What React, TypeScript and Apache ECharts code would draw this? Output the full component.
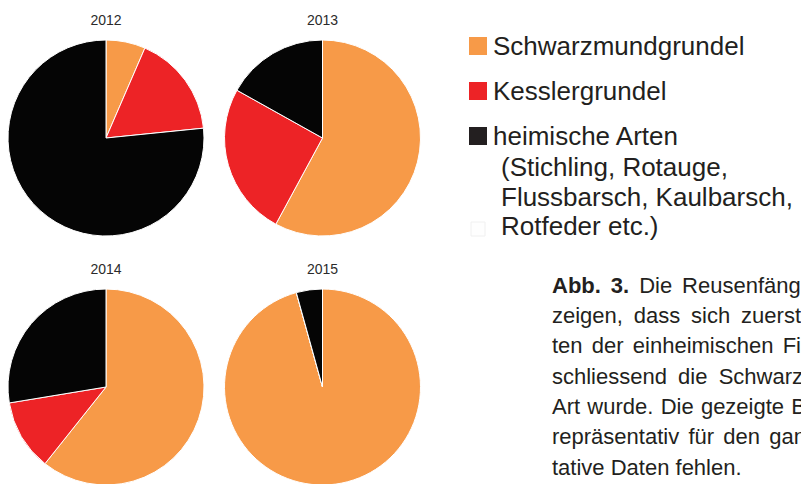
import React, { useEffect, useRef } from "react";
import * as echarts from "echarts";

const years = ["2012", "2013", "2014", "2015"];
const species = ["Schwarzmundgrundel", "Kesslergrundel", "heimische Arten"];
const share2012 = [6.5, 16.9, 76.6];
const share2013 = [57.9, 25.2, 16.9];
const share2014 = [60.7, 11.7, 27.6];
const share2015 = [95.7, 0, 4.3];
const shares = [share2012, share2013, share2014, share2015];
const sliceColors = ["#F79A48", "#ED2326", "#050505"];
const legendColors = ["#F79A48", "#ED2326", "#231F20"];
const legendNote = ["(Stichling, Rotauge,", "Flussbarsch, Kaulbarsch,", "Rotfeder etc.)"];
const captionLines = [
  "Abb. 3. Die Reusenfänge",
  "zeigen, dass sich zuerst",
  "ten der einheimischen Fi",
  "schliessend die Schwarz",
  "Art wurde. Die gezeigte B",
  "repräsentativ für den gan",
  "tative Daten fehlen.",
];
const captionBoldWords = ["Abb.", "3."];

const centers: [number, number][] = [
  [106, 138],
  [322.5, 138],
  [106, 387],
  [322.5, 387],
];

const FONT = "'Liberation Sans', Arial, Helvetica, sans-serif";

function buildCaption(): any[] {
  const cv = document.createElement("canvas");
  const ctx = cv.getContext("2d")!;
  const size = 22;
  const left = 552;
  const targetEnds = [813, 801, 801, 803, 806, 806];
  const out: any[] = [];
  captionLines.forEach((line, i) => {
    const words = line.split(" ");
    const widths = words.map((w, k) => {
      const bold = i === 0 && captionBoldWords.includes(w) && k < 2;
      ctx.font = `${bold ? "bold " : ""}${size}px ${FONT}`;
      return ctx.measureText(w).width;
    });
    ctx.font = `${size}px ${FONT}`;
    const space = ctx.measureText(" ").width;
    let gap = space;
    if (i < targetEnds.length && words.length > 1) {
      const total = widths.reduce((a, b) => a + b, 0);
      gap = Math.max(space, (targetEnds[i] - left - total) / (words.length - 1));
    }
    let x = left;
    const baseline = 293 + i * 30.3;
    words.forEach((w, k) => {
      const bold = i === 0 && captionBoldWords.includes(w) && k < 2;
      out.push({
        type: "text",
        x,
        y: baseline - 0.3465 * size,
        silent: true,
        style: {
          text: w,
          fontSize: size,
          fontWeight: bold ? "bold" : "normal",
          fill: "#231F20",
          fontFamily: FONT,
          verticalAlign: "middle",
        },
      });
      x += widths[k] + gap;
    });
  });
  return out;
}

export default function App() {
  const ref = useRef<HTMLDivElement>(null);
  useEffect(() => {
    if (!ref.current) return;
    const chart = echarts.init(ref.current, undefined, { renderer: "svg" });
    const option: any = {
      animation: false,
      backgroundColor: "#ffffff",
      title: years.map((y, i) => ({
        text: y,
        left: centers[i][0],
        top: centers[i][1] - 125,
        textAlign: "center",
        padding: 0,
        textStyle: { fontSize: 14, fontWeight: "normal", color: "#2b2b2b", fontFamily: FONT },
      })),
      legend: {
        orient: "vertical",
        left: 462,
        top: 28,
        itemWidth: 20,
        itemHeight: 20,
        itemGap: 19,
        selectedMode: false,
        icon: "rect",
        textStyle: { fontSize: 26, color: "#231F20", fontFamily: FONT },
        data: species.map((s, i) => ({ name: s, itemStyle: { color: legendColors[i] } })),
      },
      series: shares.map((vals, i) => ({
        type: "pie",
        name: years[i],
        center: centers[i],
        radius: 98,
        startAngle: 90,
        clockwise: true,
        silent: true,
        label: { show: false },
        labelLine: { show: false },
        emphasis: { disabled: true },
        itemStyle: { borderColor: "#ffffff", borderWidth: 1 },
        data: species.map((s, j) => ({ name: s, value: vals[j], itemStyle: { color: sliceColors[j] } })),
      })),
      graphic: [
        ...legendNote.map((t, i) => ({
          type: "text",
          x: 501,
          y: 176 + i * 29.5 - 9,
          silent: true,
          style: { text: t, fontSize: 26, fill: "#231F20", fontFamily: FONT, verticalAlign: "middle" },
        })),
        {
          type: "rect",
          silent: true,
          shape: { x: 471, y: 222, width: 14, height: 14 },
          style: { fill: "#fefefe", stroke: "#f0f0f0", lineWidth: 1 },
        },
        ...buildCaption(),
      ],
    };
    chart.setOption(option);
    return () => chart.dispose();
  }, []);
  return (
    <div
      ref={ref}
      style={{ position: "fixed", left: 0, top: 0, width: 801, height: 484, background: "#fff" }}
    />
  );
}
